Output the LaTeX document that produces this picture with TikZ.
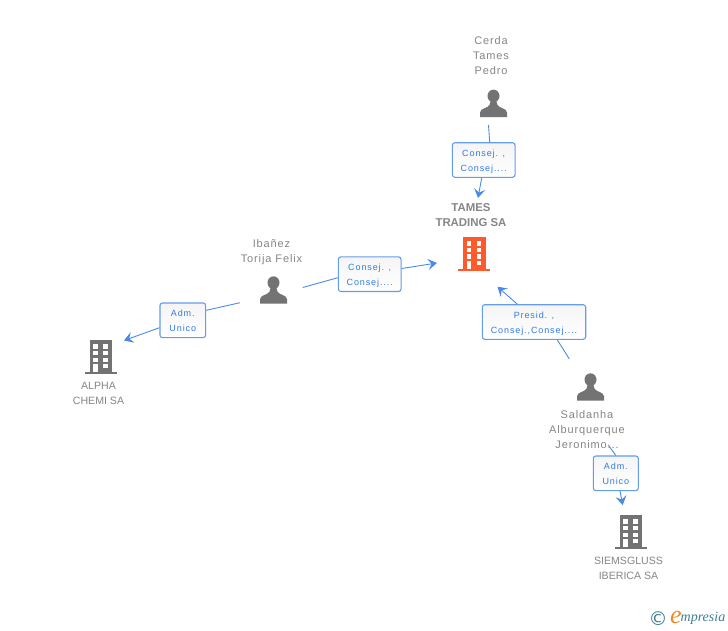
\documentclass[tikz,border=0pt]{standalone}
\usepackage{fontspec}
\usetikzlibrary{arrows.meta}
\newfontfamily\namefont[LetterSpace=8]{Liberation Sans}
\newfontfamily\firmfont{Liberation Sans}
\newfontfamily\rolefont[LetterSpace=10]{Liberation Sans}
\newfontfamily\logofont{Liberation Serif}
\newfontfamily\copyfont{DejaVu Sans}
\definecolor{icongrey}{HTML}{737373}
\definecolor{textgrey}{HTML}{868686}
\definecolor{firmred}{HTML}{FF5A2C}
\definecolor{linkblue}{HTML}{4A8BE6}
\definecolor{roleblue}{HTML}{2F7BE5}
\definecolor{logoblue}{HTML}{3F7F96}
\definecolor{logoorange}{HTML}{F08A24}
\newcommand{\personshape}{
  \fill[icongrey] (0,-7.5) ellipse (6 and 6.4);
  \fill[icongrey] (-13.5,13.5) -- (-13.5,9) .. controls (-13,4.5) and (-6,5) .. (-4,1.5)
    -- (-3,-2) -- (3,-2) -- (4,1.5) .. controls (6,5) and (13,4.5) .. (13.5,9) -- (13.5,13.5) -- cycle;
}
\newcommand{\buildshape}[1]{
  \fill[#1] (-11,-17) rectangle (11.3,15);
  \fill[#1] (-16,15) rectangle (16,17);
  \foreach \wy/\wh in {-12.7/-8,-5.7/-1.7,0.7/5} {
    \fill[white] (-7.7,\wy) rectangle (-3,\wh);
    \fill[white] (2.3,\wy) rectangle (7,\wh);
  }
  \fill[white] (2.3,7.3) rectangle (7,11.3);
  \fill[white] (-7.7,7) rectangle (-3,15);
}
\newcommand{\rolelines}[2]{\rule{0pt}{9.5pt}#1\\#2\rule[-2pt]{0pt}{2pt}}
\tikzset{
  person/.style={inner sep=0pt,minimum size=28pt,path picture={\personshape}},
  firm/.style={inner sep=0pt,minimum size=34pt,path picture={\buildshape{#1}}},
  firm/.default=icongrey,
  rolebox/.style={draw=linkblue!85,line width=1.1pt,rounded corners=2.5pt,top color=black!4,bottom color=white,
    inner sep=0pt,minimum height=34.6pt,text=roleblue,align=center,
    font=\rolefont\fontsize{9}{15}\selectfont},
  link/.style={draw=linkblue,line width=.9pt},
  linkto/.style={link,-{Stealth[length=9pt,width=11pt,inset=3.5pt]}}
}
\begin{document}
\begin{tikzpicture}[x=1pt,y=-1pt]

  \path[fill=white,use as bounding box] (0,0) rectangle (728,630);

  % icons
  \node[person] (cerda)    at (493.5,103.5) {};
  \node[person] (ibanez)   at (273.5,290.2) {};
  \node[person] (saldanha) at (590.5,387.2) {};
  \node[firm=firmred] (tames) at (474.2,253.7) {};
  \node[firm] (alpha)  at (101,356.8) {};
  \node[firm] (siems)  at (631,531.8) {};

  % names
  \begin{scope}[every node/.style={align=center,text=textgrey,font=\namefont\fontsize{11}{15}\selectfont}]
    \node (cerdatxt)    at (491,56)    {Cerda\\Tames\\Pedro};
    \node (ibaneztxt)   at (271.5,252) {Ibañez\\Torija Felix};
    \node (saldanhatxt) at (587,429.5) {Saldanha\\Alburquerque\\Jeronimo...};
  \end{scope}
  \begin{scope}[every node/.style={align=center,text=textgrey,font=\firmfont\fontsize{10.6}{15}\selectfont}]
    \node (alphatxt) at (98.5,393.5) {ALPHA\\CHEMI SA};
    \node (siemstxt) at (628.5,568.5) {SIEMSGLUSS\\IBERICA SA};
  \end{scope}
  \node[align=center,text=textgrey,font=\firmfont\bfseries\fontsize{11.4}{15}\selectfont] (tamestxt) at (471,215) {TAMES\\TRADING SA};

  % connector ends
  \coordinate (cerdaout) at (488.5,125);
  \coordinate (tamesa)   at (478,198);
  \coordinate (ibaneza)  at (302.7,287.5);
  \coordinate (tamesb)   at (437,263);
  \coordinate (ibanezb)  at (240,302.7);
  \coordinate (alphain)  at (124,340.5);
  \coordinate (saldaa)   at (569.3,359);
  \coordinate (tamesc)   at (497.5,286.7);
  \coordinate (saldab)   at (608.3,445);
  \coordinate (siemsin)  at (622.7,505);

  % role boxes
  \node[rolebox,minimum width=62.7pt]  (role1) at (483.7,160)   {\rolelines{Consej. ,}{Consej....}};
  \node[rolebox,minimum width=62.7pt]  (role2) at (369.7,274.2) {\rolelines{Consej. ,}{Consej....}};
  \node[rolebox,minimum width=45.7pt]  (role3) at (182.8,320.3) {\rolelines{Adm.}{Unico}};
  \node[rolebox,minimum width=103.4pt] (role4) at (534,322)     {\rolelines{Presid. ,}{Consej.,Consej....}};
  \node[rolebox,minimum width=45pt]    (role5) at (615.8,473.3) {\rolelines{Adm.}{Unico}};

  \draw[link]   (cerdaout) -- ([xshift=6pt]role1.north);
  \draw[linkto] ([xshift=-2pt]role1.south) -- (tamesa);
  \draw[link]   (ibaneza) -- ([yshift=-3.5pt]role2.west);
  \draw[linkto] ([yshift=5.7pt]role2.east) -- (tamesb);
  \draw[link]   (ibanezb) -- ([yshift=10pt]role3.east);
  \draw[linkto] ([yshift=-7.4pt]role3.west) -- (alphain);
  \draw[link]   (saldaa) -- ([xshift=23.3pt]role4.south);
  \draw[linkto] ([xshift=-16.7pt]role4.north) -- (tamesc);
  \draw[link]   (saldab) -- (role5.north);
  \draw[linkto] ([xshift=4.2pt]role5.south) -- (siemsin);

  % logo
  \node[text=logoblue,font=\copyfont\fontsize{19}{19}\selectfont,inner sep=0pt] (logoc) at (658,618.5) {©};
  \node[text=logoorange,font=\logofont\itshape\fontsize{26}{26}\selectfont,inner sep=0pt] (logoe) at (676,617) {e};
  \node[text=logoblue,font=\logofont\itshape\fontsize{14}{14}\selectfont,inner sep=0pt] (logot) at (703,618.5) {mpresia};

\end{tikzpicture}
\end{document}
